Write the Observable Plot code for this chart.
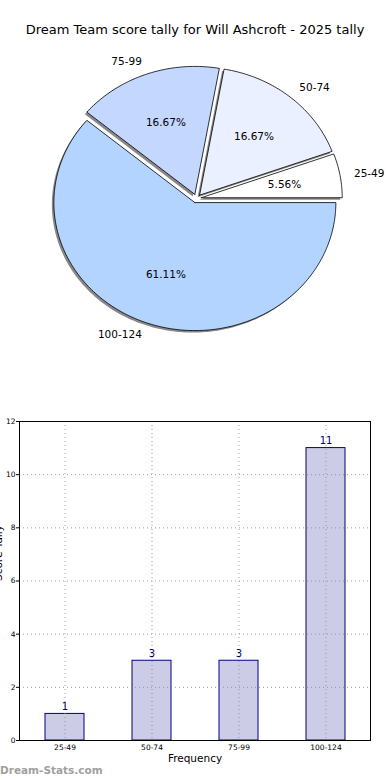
<!DOCTYPE html>
<html>
<head>
<meta charset="utf-8">
<script src="https://cdn.jsdelivr.net/npm/d3@7"></script>
<script src="https://cdn.jsdelivr.net/npm/@observablehq/plot@0.6"></script>
<style>
  html, body { margin: 0; padding: 0; background: #fff; }
  body { width: 390px; height: 780px; position: relative; overflow: hidden; font-family: "DejaVu Sans", sans-serif; }
  #title { position: absolute; top: 22px; left: 0; width: 390px; text-align: center; font-size: 13px; line-height: 16px; color: #000; }
  #pie { position: absolute; top: 50px; left: 0; }
  #bar { position: absolute; top: 400px; left: 0; }
  #wm { position: absolute; left: 0; top: 763px; font-size: 10.5px; font-weight: bold; color: #a0a0a0; line-height: 14px; }
</style>
</head>
<body>
<div id="title"></div>
<div id="pie"></div>
<div id="bar"></div>
<div id="wm">Dream-Stats.com</div>
<script>
const titleText = "Dream Team score tally for Will Ashcroft - 2025 tally";
const categories = ["25-49", "50-74", "75-99", "100-124"];
const counts = [1, 3, 3, 11];
const pieColors = ["#ffffff", "#eaf0ff", "#c4d7ff", "#b3d4ff"];
const yTicks = [0, 2, 4, 6, 8, 10, 12];
const xLabel = "Frequency";
const yLabel = "Score Tally";

document.getElementById("title").textContent = titleText;

// ---- Pie ----
const explode = 0.034;
const total = d3.sum(counts);
let acc = 0;
const slices = categories.map((c, i) => {
  const a0 = acc / total * 2 * Math.PI;
  acc += counts[i];
  const a1 = acc / total * 2 * Math.PI;
  const mid = (a0 + a1) / 2;
  return {c, i, a0, a1, mid, ox: explode * Math.cos(mid), oy: explode * Math.sin(mid), pct: counts[i] / total * 100};
});
function slicePoints(s) {
  const pts = [{x: s.ox, y: s.oy}];
  const n = Math.max(4, Math.ceil((s.a1 - s.a0) / (Math.PI / 180)));
  for (let k = 0; k <= n; k++) {
    const a = s.a0 + (s.a1 - s.a0) * k / n;
    pts.push({x: s.ox + Math.cos(a), y: s.oy + Math.sin(a)});
  }
  pts.push({x: s.ox, y: s.oy});
  return pts;
}
const pctLabels = slices.map(s => ({x: s.ox + 0.6 * Math.cos(s.mid), y: s.oy + 0.6 * Math.sin(s.mid), t: s.pct.toFixed(2) + "%"}));
const outLabels = slices.map(s => ({x: s.ox + 1.1 * Math.cos(s.mid), y: s.oy + 1.1 * Math.sin(s.mid), t: s.c, right: Math.cos(s.mid) >= 0}));

const pieMarks = [];
slices.forEach(s => pieMarks.push(Plot.line(slicePoints(s), {x: "x", y: "y", fill: "#888", stroke: "none", dx: -2, dy: 2})));
slices.forEach(s => pieMarks.push(Plot.line(slicePoints(s), {x: "x", y: "y", fill: pieColors[s.i], stroke: "#000", strokeWidth: 0.8, strokeLinejoin: "miter"})));
pieMarks.push(Plot.text(pctLabels, {x: "x", y: "y", text: "t", fontSize: 10.5, fill: "#000"}));
pieMarks.push(Plot.text(outLabels.filter(d => d.right), {x: "x", y: "y", text: "t", fontSize: 10.5, textAnchor: "start", fill: "#000"}));
pieMarks.push(Plot.text(outLabels.filter(d => !d.right), {x: "x", y: "y", text: "t", fontSize: 10.5, textAnchor: "end", fill: "#000"}));

const pie = Plot.plot({
  width: 390, height: 320,
  marginLeft: 55, marginRight: 53, marginTop: 20, marginBottom: 44,
  style: {fontFamily: "DejaVu Sans, sans-serif", background: "transparent", overflow: "visible"},
  x: {domain: [-1, 1], axis: null},
  y: {domain: [-1, 1], axis: null},
  marks: pieMarks
});
document.getElementById("pie").appendChild(pie);

// ---- Bars ----
const barData = categories.map((c, i) => ({cat: c, n: counts[i]}));
const bar = Plot.plot({
  width: 390, height: 380,
  marginLeft: 19, marginRight: 20, marginTop: 21, marginBottom: 40,
  style: {fontFamily: "DejaVu Sans, sans-serif", background: "transparent", overflow: "visible"},
  x: {domain: categories, padding: 0},
  y: {domain: [0, 12]},
  marks: [
    Plot.barY(barData, {x: "cat", y: "n", fill: "#ccccE6", stroke: "#000080", strokeWidth: 1, insetLeft: 24, insetRight: 24}),
    Plot.gridY(yTicks, {stroke: "#888", strokeOpacity: 0.8, strokeDasharray: "1,3"}),
    Plot.gridX(categories, {stroke: "#888", strokeOpacity: 0.8, strokeDasharray: "1,3"}),
    Plot.text(barData, {x: "cat", y: "n", text: d => String(d.n), dy: -7, fill: "#000080", fontSize: 10}),
    Plot.axisY(yTicks, {tickSize: 3, tickPadding: 1, fontSize: 7.5, label: null, stroke: "#000"}),
    Plot.axisX({tickSize: 0, tickPadding: 4, fontSize: 7.5, label: null}),
    Plot.frame({stroke: "#000", strokeWidth: 1}),
    Plot.text([xLabel], {frameAnchor: "bottom", dy: 21, fontSize: 10.5, fill: "#000"}),
    Plot.text([yLabel], {frameAnchor: "left", rotate: -90, dx: -18, lineAnchor: "bottom", fontSize: 10.5, fill: "#000"})
  ]
});
document.getElementById("bar").appendChild(bar);
</script>
</body>
</html>
